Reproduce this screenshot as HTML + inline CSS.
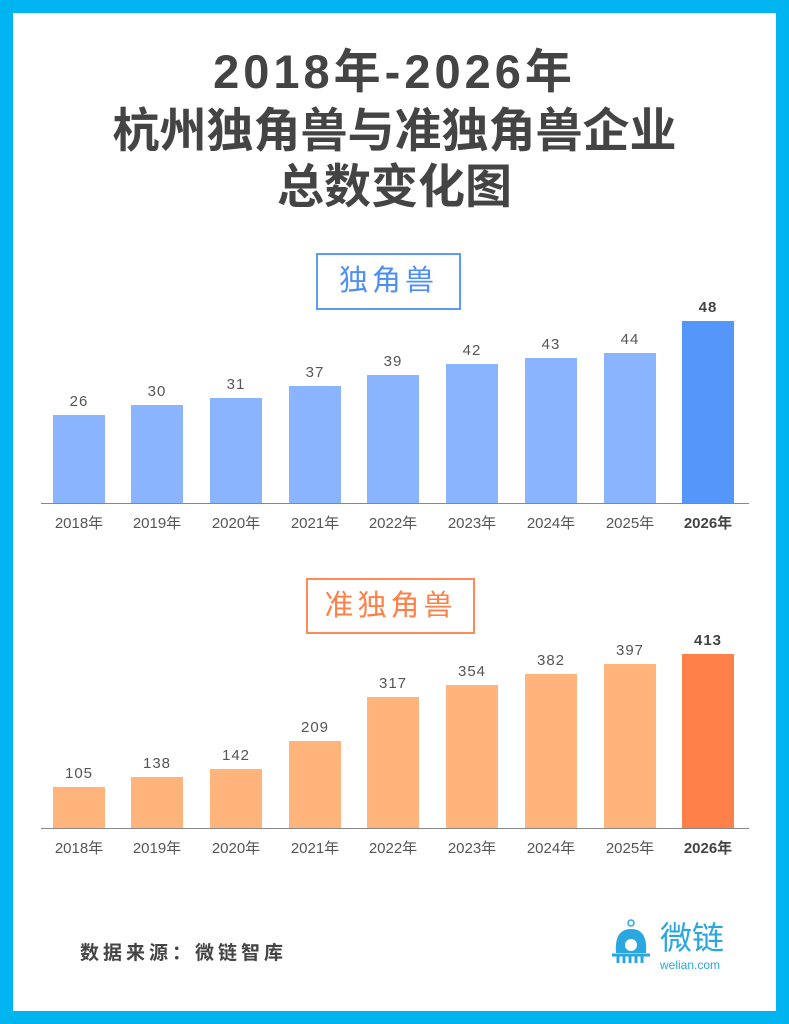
<!DOCTYPE html><html><head><meta charset="utf-8"><style>
body{margin:0;width:789px;height:1024px;position:relative;background:#fff;font-family:"Liberation Sans","Noto Sans CJK SC",sans-serif;overflow:hidden}
.frame{position:absolute;left:0;top:0;width:763px;height:998px;border:13px solid #00b4f0}
.t{position:absolute;left:0;width:789px;text-align:center;font-weight:bold;color:#444;font-size:47px;line-height:56px}
.box{position:absolute;border:2px solid;text-align:center;font-size:29px;letter-spacing:4px;box-sizing:border-box}
.b{position:absolute;width:52px}
.v{position:absolute;width:80px;text-align:center;font-size:15px;color:#555;letter-spacing:1px}
.y{position:absolute;width:80px;text-align:center;font-size:15px;color:#555}
.ax{position:absolute;left:41px;width:708px;height:1px;background:#888}
</style></head><body>
<div class="frame"></div>
<div class="t" style="top:44px;letter-spacing:4px">2018年-2026年</div>
<div class="t" style="top:103px">杭州独角兽与准独角兽企业</div>
<div class="t" style="top:159px">总数变化图</div>
<div class="box" style="left:316px;top:253px;width:145px;height:57px;border-color:#5b9cf8;color:#4d8ff5;line-height:53px">独角兽</div>
<div class="box" style="left:306px;top:578px;width:169px;height:56px;border-color:#ff8a55;color:#ff7f45;line-height:52px">准独角兽</div>
<div id="c"></div>
<div class="ax" style="top:503px"></div>
<div class="ax" style="top:828px"></div>
<div style="position:absolute;left:80px;top:938px;font-size:19px;font-weight:bold;color:#444;letter-spacing:4px">数据来源：微链智库</div>
<svg style="position:absolute;left:612px;top:915px" width="38" height="52" viewBox="0 0 38 52"><circle cx="19" cy="8" r="3" fill="none" stroke="#2ba7e0" stroke-width="1.5"/><path d="M4 38 Q2 14 19 14 Q36 14 34 38 Z" fill="#2ba7e0"/><circle cx="19" cy="30" r="6" fill="#fff"/><path d="M0 40 H38 M6 40 V48 M12 40 V48 M18 40 V48 M24 40 V48 M30 40 V48" stroke="#2ba7e0" stroke-width="3"/></svg>
<div style="position:absolute;left:660px;top:920px;font-size:32px;color:#2ba7e0;line-height:36px">微链</div>
<div style="position:absolute;left:660px;top:958px;font-size:12px;color:#2ba7e0">welian.com</div>
<script>
var xs=[79,157,236,315,393,472,551,630,708],yr=[2018,2019,2020,2021,2022,2023,2024,2025,2026];
var a=[[26,415],[30,405],[31,398],[37,386],[39,375],[42,364],[43,358],[44,353],[48,321]];
var b=[[105,787],[138,777],[142,769],[209,741],[317,697],[354,685],[382,674],[397,664],[413,654]];
var h='';
function draw(d,base,col,last){for(var i=0;i<9;i++){var L=i==8;
h+='<div class="b" style="left:'+(xs[i]-26)+'px;top:'+d[i][1]+'px;height:'+(base-d[i][1])+'px;background:'+(L?last:col)+'"></div>';
h+='<div class="v" style="left:'+(xs[i]-40)+'px;top:'+(d[i][1]-22)+'px;'+(L?'font-weight:bold;color:#444':'')+'">'+d[i][0]+'</div>';
h+='<div class="y" style="left:'+(xs[i]-40)+'px;top:'+(base+9)+'px;'+(L?'font-weight:bold;color:#444':'')+'">'+yr[i]+'年</div>';}}
draw(a,503,'#8ab4fd','#5596fb');draw(b,828,'#ffb47b','#ff8048');
document.getElementById('c').innerHTML=h;
</script>
</body></html>
